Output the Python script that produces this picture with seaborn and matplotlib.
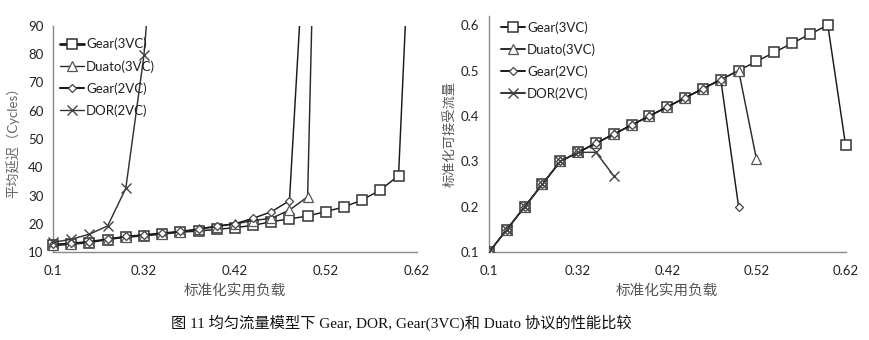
import matplotlib
matplotlib.use("Agg")
import matplotlib.pyplot as plt
from matplotlib.transforms import Bbox, TransformedBbox
import seaborn as sns
import numpy as np
import pandas as pd

# ---------------- data ----------------
categories = ["0.1", "0.15", "0.2", "0.25", "0.3", "0.32", "0.34", "0.36", "0.38", "0.4",
              "0.42", "0.44", "0.46", "0.48", "0.5", "0.52", "0.54", "0.56", "0.58", "0.6", "0.62"]
shown_labels = ["0.1", "0.32", "0.42", "0.52", "0.62"]
series_names = ["Gear(3VC)", "Duato(3VC)", "Gear(2VC)", "DOR(2VC)"]

# average latency (cycles)
lat_gear3 = [12.4, 12.8, 13.4, 14.5, 15.3, 15.8, 16.4, 17.1, 17.5, 18.1, 18.7,
             19.5, 20.8, 21.8, 22.8, 24.4, 26.0, 28.5, 32.0, 37.1, 180]
lat_duato = [12.6, 13.0, 13.6, 14.6, 15.5, 16.0, 16.6, 17.2, 18.1, 19.1, 20.0,
             21.2, 22.0, 24.9, 29.6, 300]
lat_gear2 = [12.8, 13.2, 13.8, 14.7, 15.6, 16.2, 16.8, 17.4, 18.2, 19.3, 20.1,
             22.0, 24.3, 28.2, 140]
lat_dor = [13.5, 14.6, 16.4, 19.3, 32.6, 79.7, 160]

# normalized accepted traffic
thr_gear3 = [0.1, 0.15, 0.2, 0.25, 0.3, 0.32, 0.34, 0.36, 0.38, 0.4, 0.42,
             0.44, 0.46, 0.48, 0.5, 0.52, 0.54, 0.56, 0.58, 0.6, 0.335]
thr_duato = [0.1, 0.15, 0.2, 0.25, 0.3, 0.32, 0.34, 0.36, 0.38, 0.4, 0.42,
             0.44, 0.46, 0.48, 0.5, 0.305]
thr_gear2 = [0.1, 0.15, 0.2, 0.25, 0.3, 0.32, 0.34, 0.36, 0.38, 0.4, 0.42,
             0.44, 0.46, 0.48, 0.2]
thr_dor = [0.1, 0.15, 0.2, 0.25, 0.3, 0.32, 0.32, 0.268]

left_ticks = [10, 20, 30, 40, 50, 60, 70, 80, 90]
right_ticks = [0.1, 0.2, 0.3, 0.4, 0.5, 0.6]

caption = "图 11 均匀流量模型下 Gear, DOR, Gear(3VC)和 Duato 协议的性能比较"
xlabel = "标准化实用负载"
ylabel_left = "平均延迟（Cycles）"
ylabel_right = "标准化可接受流量"

# ---------------- style ----------------
sns.set_theme(style="white")
plt.rcParams["font.family"] = ["Lato", "Noto Sans CJK SC", "DejaVu Sans"]
plt.rcParams["axes.unicode_minus"] = False

fig = plt.figure(figsize=(8.7, 3.4), dpi=100)
axL = fig.add_axes([0.061, 0.258, 0.418, 0.666])
axR = fig.add_axes([0.562, 0.258, 0.410, 0.695])

styles = {
    "Gear(3VC)": dict(marker="s", ms=6.5, color="#1a1a1a", mec="#333333", mew=1.1),
    "Duato(3VC)": dict(marker="^", ms=6.5, color="#2a2a2a", mec="#555555", mew=0.9),
    "Gear(2VC)": dict(marker="D", ms=4.3, color="#1a1a1a", mec="#444444", mew=0.9),
    "DOR(2VC)": dict(marker="x", ms=6.5, color="#333333", mec="#444444", mew=1.0),
}

left_data = [lat_gear3, lat_duato, lat_gear2, lat_dor]
right_data = [thr_gear3, thr_duato, thr_gear2, thr_dor]


def draw(ax, datas, clip_bounds, legend_anchor, legend_lw):
    for name, vals in zip(series_names, datas):
        df = pd.DataFrame({"x": np.arange(len(vals)), "y": vals})
        st = styles[name]
        sns.lineplot(data=df, x="x", y="y", ax=ax, label=name, color=st["color"],
                     linewidth=1.05, marker=st["marker"], markersize=st["ms"],
                     markerfacecolor="white", markeredgecolor=st["mec"],
                     markeredgewidth=st["mew"])
    clip = TransformedBbox(Bbox(clip_bounds), ax.transAxes)
    for ln in ax.get_lines():
        ln.set_clip_box(clip)
    ax.set_xlim(0, len(categories) - 1)
    ax.set_xticks(np.arange(len(categories)))
    ax.set_xticklabels([c if c in shown_labels else "" for c in categories])
    for s in ["top", "right"]:
        ax.spines[s].set_visible(False)
    for s in ["left", "bottom"]:
        ax.spines[s].set_color("#888888")
        ax.spines[s].set_linewidth(1.0)
        ax.spines[s].set_zorder(0.5)
    ax.tick_params(axis="both", direction="out", length=4, width=0.8, color="#888888",
                   labelsize=9.5, labelcolor="#222222", pad=3)
    ax.tick_params(axis="x", pad=5)
    leg = ax.legend(loc="upper left", frameon=False, fontsize=9.5, handlelength=1.8,
                    handletextpad=0.15, labelspacing=0.72, borderaxespad=0.0,
                    bbox_to_anchor=legend_anchor)
    for t in leg.get_texts():
        t.set_color("#222222")
    for ln, lw in zip(leg.get_lines(), legend_lw):
        ln.set_linewidth(lw)


draw(axL, left_data, [[-0.03, -0.05], [1.03, 1.0]], (0.005, 0.97), [2.0, 1.0, 1.5, 1.0])
axL.set_ylim(10, 90)
axL.set_yticks(left_ticks)
axL.set_xlabel(xlabel, fontsize=10.5, color="#555555", labelpad=6)
axL.set_ylabel(ylabel_left, fontsize=9.5, color="#666666", labelpad=6)

draw(axR, right_data, [[0.0, 0.0], [1.03, 1.03]], (0.02, 1.0), [1.4, 1.4, 1.4, 1.4])
axR.set_ylim(0.1, 0.62)
axR.set_yticks(right_ticks)
axR.set_yticklabels([f"{v:g}" for v in right_ticks])
axR.set_xlabel(xlabel, fontsize=10.5, color="#555555", labelpad=6)
axR.set_ylabel(ylabel_right, fontsize=9.5, color="#555555", labelpad=3)

fig.text(0.461, 0.05, caption, ha="center", va="center", fontsize=11,
         family=["Liberation Serif", "Noto Sans CJK SC"], color="#111111")

fig.savefig("out.png", dpi=100)
